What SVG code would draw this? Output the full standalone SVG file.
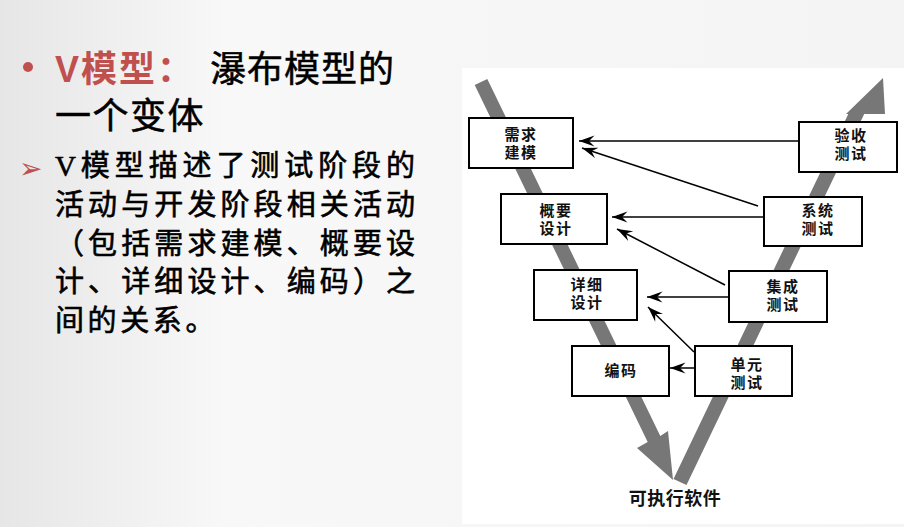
<svg xmlns="http://www.w3.org/2000/svg" width="904" height="527" viewBox="0 0 904 527">
<defs>
<linearGradient id="bg" x1="0" y1="0" x2="1" y2="0">
<stop offset="0" stop-color="#e6e6e6"/>
<stop offset="0.25" stop-color="#f8f8f8"/>
<stop offset="1" stop-color="#f4f4f4"/>
</linearGradient>
<marker id="ah" viewBox="0 0 16 12" refX="16" refY="6" markerWidth="16" markerHeight="12" markerUnits="userSpaceOnUse" orient="auto">
<path d="M16,6 L0.5,0.5 L6,6 L0.5,11.5 Z" fill="#000"/>
</marker>
<style>
.hd{font-family:"Liberation Sans","Noto Sans CJK SC",sans-serif;font-size:36px;fill:#000;stroke:#000;stroke-width:0.5px}
.red{fill:#C0504D;stroke:none;font-weight:bold}
.bd{font-family:"Liberation Serif","Noto Sans CJK SC",serif;font-size:29px;fill:#000;stroke:#000;stroke-width:0.6px}
.box{fill:#fff;stroke:#000;stroke-width:2}
.lbl{font-family:"Liberation Sans","Noto Sans CJK SC",sans-serif;font-size:15px;font-weight:bold;fill:#111;text-anchor:middle;letter-spacing:1.5px}
.con{stroke:#000;stroke-width:1.5;fill:none;marker-end:url(#ah)}
.v{fill:#777}
</style>
</defs>
<rect width="904" height="527" fill="url(#bg)"/>
<rect x="462" y="68" width="442" height="456" fill="#fff"/>

<g id="text-left">
<circle cx="28" cy="67" r="5" fill="#C0504D"/>
<text class="hd red" x="55" y="82" letter-spacing="2">V模型：</text>
<text class="hd" x="210" y="82" letter-spacing="1">瀑布模型的</text>
<text class="hd" x="55" y="129" letter-spacing="1.5">一个变体</text>
<text x="19" y="178" font-family="DejaVu Sans,sans-serif" font-size="28" fill="#C0504D">➢</text>
<text class="bd" x="55" y="176" textLength="360" lengthAdjust="spacing">V模型描述了测试阶段的</text>
<text class="bd" x="55" y="215" textLength="360" lengthAdjust="spacing">活动与开发阶段相关活动</text>
<text class="bd" x="55" y="254" textLength="360" lengthAdjust="spacing">（包括需求建模、概要设</text>
<text class="bd" x="55" y="292" textLength="360" lengthAdjust="spacing">计、详细设计、编码）之</text>
<text class="bd" x="55" y="331" letter-spacing="3.6">间的关系。</text>
</g>

<g id="v-arrows">
<polygon class="v" points="474.7,85.1 487.3,78.9 660.3,435.9 668,431 673,480 637,448 647.7,442.1"/>
<polygon class="v" points="673.5,479 686.5,485 864.2,114 885,114 883,78 846,114 848.3,114"/>
</g>

<g id="connectors">
<line class="con" x1="799" y1="141" x2="579" y2="141"/>
<line class="con" x1="758" y1="206" x2="582" y2="148"/>
<line class="con" x1="763" y1="217" x2="612" y2="217"/>
<line class="con" x1="725" y1="285" x2="617" y2="229"/>
<line class="con" x1="728" y1="297" x2="647" y2="297"/>
<line class="con" x1="694" y1="352" x2="648" y2="307"/>
<line class="con" x1="694" y1="368" x2="670" y2="368"/>
</g>

<g id="n-xqjm">
<rect class="box" x="469" y="118" width="104" height="50"/>
<text class="lbl"><tspan x="521" y="140">需求</tspan><tspan x="521" y="158">建模</tspan></text>
</g>
<g id="n-ysc">
<rect class="box" x="799" y="122" width="98" height="50"/>
<text class="lbl"><tspan x="851" y="141">验收</tspan><tspan x="851" y="159">测试</tspan></text>
</g>
<g id="n-gysj">
<rect class="box" x="501" y="194" width="106" height="50"/>
<text class="lbl"><tspan x="556" y="216">概要</tspan><tspan x="556" y="234">设计</tspan></text>
</g>
<g id="n-xtcs">
<rect class="box" x="764" y="197" width="98" height="49"/>
<text class="lbl"><tspan x="818" y="216">系统</tspan><tspan x="818" y="234">测试</tspan></text>
</g>
<g id="n-xxsj">
<rect class="box" x="534" y="270" width="103" height="50"/>
<text class="lbl"><tspan x="587" y="290">详细</tspan><tspan x="587" y="308">设计</tspan></text>
</g>
<g id="n-jccs">
<rect class="box" x="729" y="271" width="98" height="51"/>
<text class="lbl"><tspan x="783" y="292">集成</tspan><tspan x="783" y="310">测试</tspan></text>
</g>
<g id="n-bm">
<rect class="box" x="572" y="346" width="97" height="50"/>
<text class="lbl"><tspan x="621" y="376">编码</tspan></text>
</g>
<g id="n-dycs">
<rect class="box" x="695" y="346" width="97" height="50"/>
<text class="lbl"><tspan x="747" y="370">单元</tspan><tspan x="747" y="388">测试</tspan></text>
</g>
<g id="n-out">
<text class="lbl" x="675" y="505" style="font-size:18px;letter-spacing:0.5px">可执行软件</text>
</g>
</svg>
